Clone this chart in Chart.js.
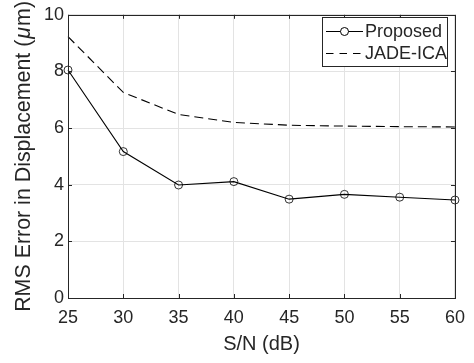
<!DOCTYPE html>
<html>
<head>
<meta charset="utf-8">
<script src="https://cdn.jsdelivr.net/npm/chart.js@4"></script>
<style>
  html, body { margin: 0; padding: 0; background: #fff; }
  #c { display: block; }
</style>
</head>
<body>
<canvas id="c" width="474" height="363"></canvas>
<script>
// ---- data ----
const snr = [25, 30, 35, 40, 45, 50, 55, 60];
const proposed = [8.05, 5.17, 3.99, 4.11, 3.49, 3.66, 3.56, 3.46];
const jadeIca = [9.23, 7.26, 6.48, 6.20, 6.10, 6.07, 6.05, 6.04];
const xTicks = [25, 30, 35, 40, 45, 50, 55, 60];
const yTicks = [0, 2, 4, 6, 8, 10];
const seriesNames = ['Proposed', 'JADE-ICA'];
const xTitle = 'S/N (dB)';
const yTitleParts = [['RMS Error in Displacement (', false], ['\u03bc', true], ['m)', false]];

const FONT = '"Liberation Sans", Arial, Helvetica, sans-serif';
const TXT = '#262626';

const frameTicks = {
  id: 'frameTicks',
  afterDraw(chart) {
    const { ctx, chartArea: a, scales } = chart;
    ctx.save();
    ctx.strokeStyle = TXT;
    ctx.lineWidth = 1;
    const L = 4;
    ctx.beginPath();
    xTicks.forEach(v => {
      const x = Math.round(scales.x.getPixelForValue(v)) + 0.5;
      ctx.moveTo(x, a.bottom); ctx.lineTo(x, a.bottom - L);
      ctx.moveTo(x, a.top); ctx.lineTo(x, a.top + L);
    });
    yTicks.forEach(v => {
      const y = Math.round(scales.y.getPixelForValue(v)) + 0.5;
      ctx.moveTo(a.left, y); ctx.lineTo(a.left + L, y);
      ctx.moveTo(a.right, y); ctx.lineTo(a.right - L, y);
    });
    ctx.stroke();
    ctx.strokeRect(Math.round(a.left) + 0.5, Math.round(a.top) + 0.5,
                   Math.round(a.right - a.left), Math.round(a.bottom - a.top));

    // axis titles
    ctx.fillStyle = TXT;
    ctx.textBaseline = 'middle';
    ctx.textAlign = 'center';
    ctx.font = '20px ' + FONT;
    ctx.fillText(xTitle, (a.left + a.right) / 2, 344);

    ctx.save();
    ctx.translate(24, (a.top + a.bottom) / 2);
    ctx.rotate(-Math.PI / 2);
    ctx.textAlign = 'left';
    const ys = '21.4px ';
    let total = 0;
    const widths = yTitleParts.map(([t, it]) => {
      ctx.font = (it ? 'italic ' : '') + ys + FONT;
      const w = ctx.measureText(t).width + (it ? 2 : 0);
      total += w; return w;
    });
    let px = -total / 2;
    yTitleParts.forEach(([t, it], i) => {
      ctx.font = (it ? 'italic ' : '') + ys + FONT;
      ctx.fillText(t, px + (it ? 1 : 0), 0);
      px += widths[i];
    });
    ctx.restore();

    // legend
    const bx = 322.5, by = 17.5, bw = 125, bh = 49;
    ctx.fillStyle = '#fff';
    ctx.fillRect(bx, by, bw, bh);
    ctx.strokeStyle = TXT;
    ctx.strokeRect(bx, by, bw, bh);
    ctx.font = '18px ' + FONT;
    ctx.textAlign = 'left';
    const rows = [31, 53];
    ctx.strokeStyle = '#000';
    ctx.lineWidth = 1;
    // row 1
    ctx.beginPath(); ctx.moveTo(326, rows[0] + 0.5); ctx.lineTo(363, rows[0] + 0.5); ctx.stroke();
    ctx.fillStyle = '#fff';
    ctx.beginPath(); ctx.arc(344.5, rows[0] + 0.5, 4, 0, Math.PI * 2); ctx.fill(); ctx.stroke();
    ctx.fillStyle = TXT;
    ctx.fillText(seriesNames[0], 365, rows[0] + 1);
    // row 2
    ctx.setLineDash([7.5, 6]);
    ctx.beginPath(); ctx.moveTo(326, rows[1] + 0.5); ctx.lineTo(363, rows[1] + 0.5); ctx.stroke();
    ctx.setLineDash([]);
    ctx.fillText(seriesNames[1], 365, rows[1] + 1);
    ctx.restore();
  }
};

new Chart(document.getElementById('c'), {
  type: 'line',
  data: {
    datasets: [
      {
        label: seriesNames[0],
        data: snr.map((x, i) => ({ x, y: proposed[i] })),
        borderColor: '#000',
        borderWidth: 1.1,
        pointRadius: 4,
        pointBorderWidth: 0.8,
        pointBorderColor: '#000',
        pointBackgroundColor: 'rgba(0,0,0,0)',
        tension: 0,
        clip: false
      },
      {
        label: seriesNames[1],
        data: snr.map((x, i) => ({ x, y: jadeIca[i] })),
        borderColor: '#000',
        borderWidth: 1.1,
        borderDash: [9, 5],
        pointRadius: 0,
        tension: 0,
        clip: false
      }
    ]
  },
  options: {
    responsive: false,
    animation: false,
    events: [],
    layout: { padding: { top: 7, right: 17, left: 0, bottom: 0 } },
    plugins: { legend: { display: false }, tooltip: { enabled: false } },
    scales: {
      x: {
        type: 'linear', min: 25, max: 60,
        afterBuildTicks: s => { s.ticks = xTicks.map(v => ({ value: v })); },
        afterFit: s => { s.height = 65; },
        grid: { color: '#e3e3e3', drawTicks: false },
        border: { display: false },
        ticks: { color: TXT, font: { family: FONT, size: 18 }, padding: 9, maxRotation: 0 }
      },
      y: {
        min: 0, max: 10,
        afterBuildTicks: s => { s.ticks = yTicks.map(v => ({ value: v })); },
        afterFit: s => { s.width = 68; },
        grid: { color: '#e3e3e3', drawTicks: false },
        border: { display: false },
        ticks: { color: TXT, font: { family: FONT, size: 18 }, padding: 4 }
      }
    }
  },
  plugins: [frameTicks]
});
</script>
</body>
</html>
